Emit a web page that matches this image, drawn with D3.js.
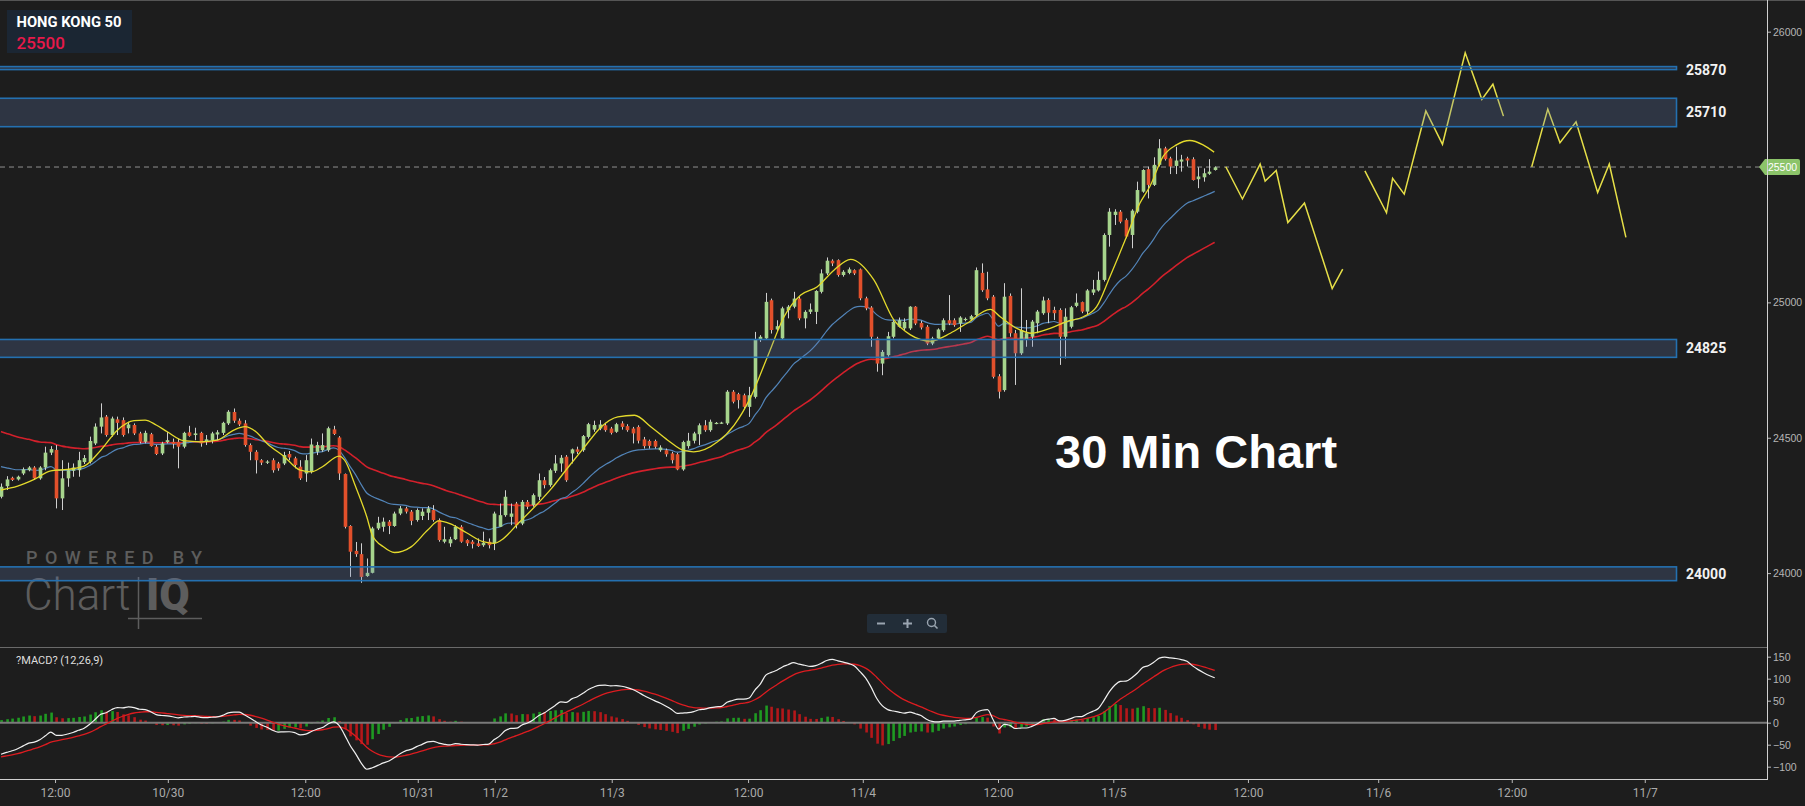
<!DOCTYPE html>
<html><head><meta charset="utf-8">
<script src="https://cdn.jsdelivr.net/npm/d3@7"></script>
<style>
html,body{margin:0;padding:0;background:#1d1d1d;overflow:hidden}
svg{display:block}
</style></head><body>
<svg id="c" width="1805" height="806"></svg>
<script>
// ---------------- DATA ----------------
const symbolName = "HONG KONG 50";
const lastPrice = 25500;

const open = [24282,24321,24352,24346,24368,24380,24390,24350,24390,24445,24455,24276,24350,24378,24380,24410,24411,24479,24541,24578,
24510,24568,24565,24535,24547,24516,24485,24513,24467,24442,24484,24485,24485,24467,24520,24510,24518,24485,24491,24512,
24518,24553,24595,24563,24553,24473,24448,24417,24409,24417,24405,24405,24440,24424,24393,24368,24374,24448,24454,24454,
24531,24501,24366,24174,24082,24070,23989,24001,24165,24171,24190,24174,24220,24239,24227,24196,24211,24223,24233,24196,
24116,24110,24125,24171,24122,24116,24110,24103,24116,24110,24171,24214,24208,24257,24183,24263,24251,24282,24343,24325,
24378,24405,24430,24442,24457,24454,24503,24530,24534,24546,24534,24522,24553,24543,24534,24540,24494,24488,24488,24454,
24454,24442,24439,24383,24469,24489,24513,24546,24528,24552,24553,24553,24670,24661,24657,24614,24651,24861,24867,25008,
24900,24867,24971,24984,25014,24941,24965,24965,25039,25107,25154,25156,25101,25109,25119,25122,25015,24981,24867,24774,
24805,24873,24910,24904,24904,24984,24924,24910,24848,24867,24897,24934,24934,24922,24935,24937,24953,25109,25048,25021,
24727,24676,25024,24886,24812,24861,24873,24923,24960,25009,24972,24972,24873,24910,24987,25001,24966,25036,25044,25083,
25249,25323,25335,25304,25249,25335,25409,25492,25434,25508,25569,25532,25504,25520,25532,25529,25455,25462,25475,25489];
const high = [24331,24358,24356,24360,24390,24395,24395,24395,24467,24469,24473,24417,24408,24405,24448,24436,24504,24553,24627,24584,
24578,24578,24575,24559,24553,24522,24526,24518,24473,24485,24522,24497,24497,24522,24544,24537,24522,24510,24522,24528,
24559,24602,24608,24571,24565,24479,24454,24421,24417,24424,24411,24448,24451,24430,24417,24436,24497,24485,24516,24541,
24544,24506,24368,24177,24115,24110,24054,24171,24208,24205,24196,24227,24248,24245,24233,24239,24239,24248,24251,24202,
24171,24134,24177,24177,24125,24122,24128,24153,24128,24227,24257,24306,24257,24263,24270,24270,24294,24368,24355,24386,
24436,24436,24436,24460,24467,24510,24555,24563,24565,24555,24540,24555,24561,24550,24540,24546,24503,24493,24493,24472,
24460,24448,24444,24489,24518,24522,24553,24565,24567,24558,24559,24676,24676,24666,24663,24688,24891,24879,25035,25014,
24934,24984,24990,25039,25021,24971,24996,25045,25122,25166,25159,25159,25119,25129,25122,25125,25021,24986,24873,24824,
24891,24934,24944,24941,24986,24986,24932,24916,24873,24904,24941,25027,24941,24949,24944,24954,25129,25144,25113,25027,
24735,25071,25033,24898,25052,24935,24935,24972,25021,25015,24984,24978,24978,24987,25033,25003,25049,25083,25114,25255,
25348,25344,25341,25310,25344,25446,25492,25502,25536,25603,25575,25538,25575,25545,25538,25536,25499,25495,25529,25502];
const low = [24276,24307,24340,24342,24362,24376,24344,24345,24380,24436,24239,24233,24319,24356,24356,24403,24405,24473,24516,24504,
24504,24510,24504,24516,24510,24479,24479,24467,24436,24436,24479,24460,24387,24461,24504,24491,24467,24473,24479,24491,
24510,24547,24555,24543,24467,24417,24368,24399,24403,24371,24378,24399,24417,24387,24344,24337,24368,24436,24448,24448,
24510,24344,24165,23986,24060,23964,23986,23999,24159,24153,24144,24171,24214,24220,24177,24190,24196,24196,24190,24116,
24110,24097,24122,24112,24100,24091,24097,24097,24091,24085,24171,24208,24177,24165,24177,24236,24245,24270,24313,24319,
24370,24374,24337,24405,24440,24448,24497,24522,24528,24522,24512,24518,24530,24522,24479,24479,24460,24460,24460,24448,
24430,24405,24380,24378,24460,24479,24473,24522,24522,24550,24551,24547,24627,24608,24608,24577,24645,24854,24861,24885,
24891,24861,24941,24978,24934,24904,24957,24920,25033,25101,25134,25095,25095,25104,25101,25008,24971,24836,24744,24731,
24799,24867,24907,24898,24898,24916,24900,24842,24842,24861,24891,24916,24910,24891,24930,24932,24947,25039,25008,24719,
24645,24670,24873,24695,24806,24836,24836,24886,24954,24923,24935,24769,24793,24904,24982,24960,24953,25027,25040,25077,
25206,25286,25292,25237,25200,25329,25405,25384,25430,25502,25524,25474,25474,25483,25502,25450,25422,25446,25471,25487];
const close = [24319,24346,24344,24356,24383,24390,24350,24390,24445,24458,24276,24350,24380,24390,24417,24425,24488,24541,24575,24510,
24571,24555,24510,24549,24516,24485,24518,24469,24440,24479,24491,24477,24467,24518,24507,24516,24479,24494,24516,24520,
24555,24596,24563,24549,24473,24448,24417,24408,24412,24380,24387,24436,24427,24399,24350,24417,24475,24473,24473,24535,
24514,24368,24171,24079,24070,23986,24001,24165,24186,24190,24174,24220,24239,24227,24193,24233,24227,24239,24196,24122,
24125,24125,24171,24116,24110,24107,24100,24112,24103,24220,24214,24282,24220,24177,24263,24245,24288,24343,24325,24380,
24405,24426,24343,24457,24448,24506,24550,24547,24549,24528,24518,24550,24540,24528,24516,24489,24469,24470,24467,24464,
24439,24417,24383,24484,24489,24516,24546,24528,24559,24555,24556,24670,24633,24639,24614,24657,24861,24873,25002,24898,
24912,24978,24984,25014,24941,24965,24974,25042,25107,25154,25144,25101,25113,25122,25107,25015,24978,24873,24774,24817,
24875,24928,24934,24928,24984,24922,24907,24848,24867,24900,24934,24922,24916,24944,24939,24949,25119,25045,25015,24725,
24670,25021,24886,24812,24898,24886,24929,24966,25007,24962,24960,24873,24947,24982,24999,24966,25044,25048,25083,25249,
25335,25335,25298,25243,25339,25415,25489,25434,25508,25569,25529,25502,25524,25528,25524,25452,25465,25477,25483,25499];

// fast moving average (yellow) at sample bars
const fastMaIdx = [0,3,6,9,12,15,18,21,24,26,28,30,33,36,39,42,44,46,48,51,54,56,58,61,62,64,66,67,69,71,74,77,79,81,84,87,89,
90.3,93.3,96.3,99.3,102.3,105.3,108.3,111.3,114.3,117.3,120.3,123.3,125,129.3,132.3,135.3,138.3,141.3,144.3,147.3,150.3,153.3,
157.5,161.1,164.1,167.7,171.3,174.3,178.5,180.3,183.3,186,189.3,192.3,195.3,197.7,200.1,203.1,205.5,207.3,209.7,212.1,214.5,216.9,218.9];
const fastMaVal = [24307,24321,24346,24378,24383,24395,24454,24528,24563,24565,24547,24522,24489,24485,24491,24528,24541,24522,24479,24432,24380,24374,24393,24432,24417,24319,24208,24140,24097,24076,24097,24159,24193,24183,24149,24116,24110,
24122,24183,24245,24312,24390,24466,24540,24577,24583,24540,24491,24452,24448,24485,24547,24651,24799,24947,25027,25058,25119,25159,
25083,24935,24880,24857,24886,24923,24974,24947,24904,24886,24904,24929,24947,24984,25095,25243,25366,25428,25539,25582,25598,25582,25555];

// EMA starting values (value just before the first visible bar)
const emaSeed = {ema20: 24401, ema50: 24531, ema12: 24370, ema26: 24443, signal: -79};

// hand-drawn projection paths: [bar index, price]
const projection1 = [[221,25501],[224,25382],[227.2,25511],[228.1,25448],[230.1,25487],[232.2,25295],[235.2,25367],[240.2,25051],[242.1,25123]];
const projection2 = [[246.1,25486],[250,25331],[251.1,25458],[253.2,25400],[257.1,25707],[260.1,25584],[264.2,25922],[267.2,25750],[269.2,25806],[271.1,25688]];
const projection3 = [[276.2,25501],[279.1,25714],[281.3,25590],[284.2,25667],[288.1,25406],[290.2,25511],[293.2,25240]];

// support / resistance zones
const zoneLow = [25860, 25649, 24797, 23972];
const zoneHigh = [25871, 25754, 24863, 24023];
const zoneLabel = ["25870", "25710", "24825", "24000"];

const priceTicks = [24000, 24500, 25000, 26000];
const macdTicks = [150, 100, 50, 0, -50, -100];
const timeTickIdx = [9.75, 30.1, 54.9, 75.2, 89.1, 110.2, 134.8, 155.5, 179.9, 200.7, 225.0, 248.5, 272.6, 296.6];
const timeTickLabel = ["12:00","10/30","12:00","10/31","11/2","11/3","12:00","11/4","12:00","11/5","12:00","11/6","12:00","11/7"];

// ---------------- INDICATORS ----------------
function ema(arr, n, seed){ const a = 2/(n+1); let v = seed; return arr.map(c => (v = v + a*(c - v))); }
const ema20 = ema(close, 20, emaSeed.ema20);
const ema50 = ema(close, 50, emaSeed.ema50);
const e12 = ema(close, 12, emaSeed.ema12);
const e26 = ema(close, 26, emaSeed.ema26);
const macd = e12.map((v,i) => v - e26[i]);
const signal = ema(macd, 9, emaSeed.signal);
const hist = macd.map((v,i) => v - signal[i]);

// ---------------- LAYOUT ----------------
const W = 1805, H = 806;
const axisX = 1767, mainBottom = 647, macdBottom = 779;
const svg = d3.select("#c");
const N = close.length;

const x = d3.scaleLinear().domain([0, N-1]).range([1, 1214.7]);
const y = d3.scaleLinear().domain([23727, 26117]).range([mainBottom, 0]);
const ym = d3.scaleLinear().domain([-128, 172]).range([macdBottom, mainBottom]);

svg.append("rect").attr("width", W).attr("height", H).attr("fill", "#1d1d1d");

const defs = svg.append("defs");
defs.append("clipPath").attr("id","mainClip").append("rect").attr("x",0).attr("y",1).attr("width",axisX).attr("height",mainBottom-1);
defs.append("clipPath").attr("id","macdClip").append("rect").attr("x",0).attr("y",mainBottom+1).attr("width",axisX).attr("height",macdBottom-mainBottom-1);

// top border
svg.append("line").attr("x1",0).attr("x2",W).attr("y1",0.5).attr("y2",0.5).attr("stroke","#555");

const main = svg.append("g").attr("clip-path","url(#mainClip)");

// watermark
const wm = main.append("g").attr("fill","#5d5d5d");
wm.append("text").attr("x",26).attr("y",564).attr("font-family","Roboto, sans-serif").attr("font-weight",500)
  .attr("font-size",18).attr("textLength",176).attr("lengthAdjust","spacing").text("POWERED BY");
wm.append("text").attr("x",24).attr("y",610).attr("font-family","Roboto, sans-serif").attr("font-weight",300)
  .attr("font-size",44).text("Chart");
wm.append("text").attr("x",146).attr("y",610).attr("font-family","Roboto, sans-serif").attr("font-weight",900)
  .attr("font-size",44).text("IQ");
wm.append("line").attr("x1",138.5).attr("x2",138.5).attr("y1",577).attr("y2",629).attr("stroke","#5d5d5d").attr("stroke-width",1.5);
wm.append("line").attr("x1",128).attr("x2",202).attr("y1",618.5).attr("y2",618.5).attr("stroke","#5d5d5d").attr("stroke-width",1.5);

// last price dashed line
main.append("line").attr("x1",0).attr("x2",1760).attr("y1",y(lastPrice)).attr("y2",y(lastPrice))
  .attr("stroke","#8f8f8f").attr("stroke-dasharray","5,4").attr("stroke-width",1);

// MA lines
const lineGen = d3.line().x((d,i) => x(i)).y(d => y(d)).curve(d3.curveMonotoneX);
main.append("path").attr("d", lineGen(ema50)).attr("fill","none").attr("stroke","#d3202b").attr("stroke-width",1.6);
main.append("path").attr("d", lineGen(ema20)).attr("fill","none").attr("stroke","#5284b8").attr("stroke-width",1.2);

// candles
const cw = 3.6;
const cg = main.append("g");
const idx = d3.range(N);
cg.selectAll("line.w").data(idx).join("line").attr("class","w")
  .attr("x1", i => Math.round(x(i))+0.5).attr("x2", i => Math.round(x(i))+0.5)
  .attr("y1", i => y(high[i])).attr("y2", i => y(low[i]))
  .attr("stroke","#cfcfcf").attr("stroke-width",1);
cg.selectAll("rect.b").data(idx).join("rect").attr("class","b")
  .attr("x", i => Math.round(x(i))+0.5 - cw/2)
  .attr("width", cw)
  .attr("y", i => y(Math.max(open[i], close[i])))
  .attr("height", i => Math.max(1.2, Math.abs(y(open[i]) - y(close[i]))))
  .attr("fill", i => close[i] >= open[i] ? "#a6d48c" : "#e2502b");

// fast MA (yellow)
const fastLine = d3.line().x(d => x(d[0])).y(d => y(d[1])).curve(d3.curveMonotoneX);
main.append("path").attr("d", fastLine(fastMaIdx.map((v,i)=>[v, fastMaVal[i]])))
  .attr("fill","none").attr("stroke","#e4da2c").attr("stroke-width",1.3);

// projections
const projLine = d3.line().x(d => x(d[0])).y(d => y(d[1]));
[projection1, projection2, projection3].forEach(p => {
  main.append("path").attr("d", projLine(p)).attr("fill","none").attr("stroke","#e6df48").attr("stroke-width",1.5);
});

// zones (semi transparent, on top)
zoneLow.forEach((lo, k) => {
  const y1 = y(zoneHigh[k]), y2 = y(lo);
  main.append("rect").attr("x",-2).attr("y",y1).attr("width",1678.5).attr("height",y2-y1)
    .attr("fill","rgba(100,128,185,0.25)").attr("stroke","#2470b0").attr("stroke-width",1.6);
  svg.append("text").attr("x",1686).attr("y",(y1+y2)/2 + (k === 0 ? 2 : 0)).attr("dy","0.35em")
    .attr("font-family","Roboto, sans-serif").attr("font-weight",700).attr("font-size",14)
    .attr("fill","#f2f2f2").text(zoneLabel[k]);
});

// "30 Min Chart"
svg.append("text").attr("x",1055).attr("y",468).attr("font-family","'Liberation Sans', Arial, sans-serif")
  .attr("font-weight",700).attr("font-size",47).attr("fill","#ffffff").text("30 Min Chart");

// symbol box
svg.append("rect").attr("x",7).attr("y",10).attr("width",125).attr("height",43).attr("fill","#1b2633");
svg.append("text").attr("x",16.5).attr("y",27).attr("font-family","Roboto, sans-serif").attr("font-weight",700)
  .attr("font-size",15.5).attr("fill","#ffffff").attr("textLength",105).attr("lengthAdjust","spacingAndGlyphs").text(symbolName);
svg.append("text").attr("x",16.5).attr("y",49).attr("font-family","Roboto, sans-serif").attr("font-weight",500)
  .attr("font-size",17).attr("fill","#e8194a").text(String(lastPrice));

// zoom controls
const zc = svg.append("g");
zc.append("rect").attr("x",867).attr("y",614).attr("width",80).attr("height",19).attr("rx",2).attr("fill","#222d38");
zc.append("line").attr("x1",877).attr("x2",885).attr("y1",623.5).attr("y2",623.5).attr("stroke","#9aa5b0").attr("stroke-width",2);
zc.append("line").attr("x1",903).attr("x2",912).attr("y1",623.5).attr("y2",623.5).attr("stroke","#9aa5b0").attr("stroke-width",2);
zc.append("line").attr("x1",907.5).attr("x2",907.5).attr("y1",619).attr("y2",628).attr("stroke","#9aa5b0").attr("stroke-width",2);
zc.append("circle").attr("cx",931.5).attr("cy",622.5).attr("r",4).attr("fill","none").attr("stroke","#9aa5b0").attr("stroke-width",1.4);
zc.append("line").attr("x1",934.5).attr("x2",937.5).attr("y1",625.5).attr("y2",628.5).attr("stroke","#9aa5b0").attr("stroke-width",1.6);

// ---------------- PRICE AXIS ----------------
const pAxis = svg.append("g").attr("transform",`translate(${axisX},0)`)
  .call(d3.axisRight(y).tickValues(priceTicks).tickSize(4).tickPadding(2).tickFormat(d3.format("d")));
pAxis.select(".domain").remove();
pAxis.selectAll("line").attr("stroke","#bbb");
pAxis.selectAll("text").attr("fill","#b5b5b5").attr("font-family","'Liberation Sans', Arial, sans-serif").attr("font-size",10.5);

// price tag
const ty = y(lastPrice);
svg.append("path").attr("d",`M1759,${ty} L1765,${ty-8} L1798,${ty-8} Q1800,${ty-8} 1800,${ty-6} L1800,${ty+6} Q1800,${ty+8} 1798,${ty+8} L1765,${ty+8} Z`)
  .attr("fill","#8cc46a");
svg.append("text").attr("x",1782.5).attr("y",ty).attr("dy","0.35em").attr("text-anchor","middle")
  .attr("font-family","'Liberation Sans', Arial, sans-serif").attr("font-size",10.5).attr("fill","#ffffff").text(String(lastPrice));

// ---------------- MACD PANEL ----------------
svg.append("line").attr("x1",0).attr("x2",axisX).attr("y1",mainBottom+0.5).attr("y2",mainBottom+0.5).attr("stroke","#6a6a6a");
const mp = svg.append("g").attr("clip-path","url(#macdClip)");
mp.selectAll("rect.h").data(idx).join("rect").attr("class","h")
  .attr("x", i => Math.round(x(i)) - 0.7).attr("width", 2.6)
  .attr("y", i => Math.min(ym(0), ym(hist[i])))
  .attr("height", i => Math.abs(ym(hist[i]) - ym(0)))
  .attr("fill", i => (i === 0 || hist[i] >= hist[i-1]) ? "#1f9a22" : "#b4181a");
mp.append("line").attr("x1",0).attr("x2",axisX).attr("y1",ym(0)).attr("y2",ym(0)).attr("stroke","#7a7a7a").attr("stroke-width",2);
const mLine = d3.line().x((d,i) => x(i)).y(d => ym(d)).curve(d3.curveMonotoneX);
mp.append("path").attr("d", mLine(signal)).attr("fill","none").attr("stroke","#dc1c20").attr("stroke-width",1.3);
mp.append("path").attr("d", mLine(macd)).attr("fill","none").attr("stroke","#f0f0f0").attr("stroke-width",1.2);

svg.append("text").attr("x",16).attr("y",664).attr("font-family","Roboto, sans-serif").attr("font-size",11)
  .attr("fill","#dddddd").text("?MACD? (12,26,9)");

const mAxis = svg.append("g").attr("transform",`translate(${axisX},0)`)
  .call(d3.axisRight(ym).tickValues(macdTicks).tickSize(4).tickPadding(2));
mAxis.select(".domain").remove();
mAxis.selectAll("line").attr("stroke","#bbb");
mAxis.selectAll("text").attr("fill","#b5b5b5").attr("font-family","'Liberation Sans', Arial, sans-serif").attr("font-size",10.5);

// ---------------- FRAME & TIME AXIS ----------------
svg.append("line").attr("x1",axisX+0.5).attr("x2",axisX+0.5).attr("y1",0).attr("y2",macdBottom).attr("stroke","#d0d0d0");
const tAxis = svg.append("g").attr("transform",`translate(0,${macdBottom})`)
  .call(d3.axisBottom(x).tickValues(timeTickIdx).tickSize(4).tickPadding(5).tickFormat((d,i) => timeTickLabel[i]));
tAxis.select(".domain").remove();
tAxis.selectAll("line").attr("stroke","#bbb");
tAxis.selectAll("text").attr("fill","#aaaaaa").attr("font-family","Roboto, sans-serif").attr("font-size",12);
svg.append("line").attr("x1",0).attr("x2",axisX+1).attr("y1",macdBottom+0.5).attr("y2",macdBottom+0.5).attr("stroke","#d0d0d0");
</script>
</body></html>
